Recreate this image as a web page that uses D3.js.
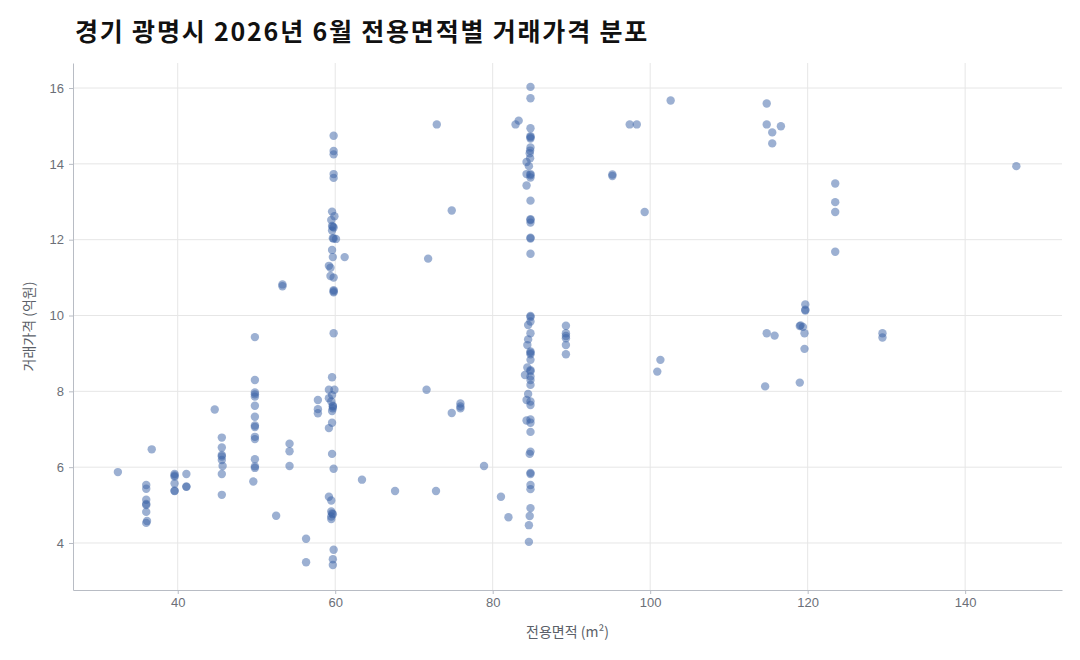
<!DOCTYPE html>
<html>
<head>
<meta charset="utf-8">
<script src="https://cdn.jsdelivr.net/npm/d3@7"></script>
<style>
  body { margin: 0; background: #fff; }
  svg { display: block; font-family: "Noto Sans CJK KR", "Noto Sans", sans-serif; }
  .grid line { stroke: #e6e6e6; stroke-width: 1; }
  .axis path, .axis line { stroke: #b8bcc4; }
  .axis text { fill: #6b6f78; font-size: 13px; }
</style>
</head>
<body>
<svg id="chart" width="1080" height="660"></svg>
<script>
// 전용면적 (m²) and 거래가격 (억원), one entry per transaction
var area = [
  32.4,
  36.0, 36.0, 36.0, 36.0, 36.0, 36.0, 36.1, 36.0, 36.7,
  39.6, 39.6, 39.6, 39.6, 39.6, 39.6,
  41.1, 41.1, 41.1, 44.7,
  45.6, 45.6, 45.6, 45.6, 45.6, 45.7, 45.6, 45.6,
  49.8, 49.8, 49.8, 49.8, 49.8, 49.8, 49.8, 49.8, 49.8, 49.8, 49.8, 49.8, 49.8, 49.8, 49.6,
  52.5, 53.3, 53.3, 54.2, 54.2, 54.2, 56.3, 56.3, 57.8, 57.8, 57.8,
  59.8, 59.8, 59.8, 59.8, 59.8, 59.6, 59.9, 59.5, 59.6, 59.7, 59.8, 59.6, 59.7, 59.8, 60.1,
  59.6, 59.7, 59.2, 59.4, 59.4, 59.8, 59.8, 59.8, 59.8, 59.8, 59.6, 59.2, 59.9, 59.6, 59.2,
  59.5, 59.7, 59.7, 59.7, 59.6, 59.6, 59.2, 59.6, 59.8, 59.2, 59.5, 59.5, 59.6, 59.7, 59.5,
  59.5, 59.8, 59.7, 59.7,
  61.2, 63.4, 67.6, 71.6, 71.8, 72.8, 72.9, 74.8, 74.8, 75.9, 75.9, 75.9, 78.9, 81.05, 82.0,
  82.9, 83.3,
  84.8, 84.8, 84.8, 84.8, 84.8, 84.8, 84.8, 84.75, 84.7, 84.75, 84.3, 84.6, 84.3, 84.8, 84.8,
  84.8, 84.3, 84.8, 84.8, 84.8, 84.8, 84.8, 84.8, 84.8, 84.8, 84.8, 84.8, 84.5, 84.8, 84.5,
  84.4, 84.8, 84.8, 84.8, 84.8, 84.4, 84.8, 84.8, 84.1, 84.8, 84.8, 84.8, 84.5, 84.3, 84.8,
  84.8, 84.3, 84.8, 84.8, 84.8, 84.8, 84.7, 84.8, 84.8, 84.8, 84.8, 84.8, 84.7, 84.6, 84.6,
  89.3, 89.3, 89.3, 89.3, 89.3, 89.3,
  95.2, 95.2, 97.4, 98.3, 99.3, 100.9, 101.3, 102.6,
  114.6, 114.8, 114.8, 114.8, 115.5, 115.5, 115.8, 116.6,
  119.0, 119.0, 119.1, 119.4, 119.6, 119.6, 119.7, 119.7, 119.7,
  123.5, 123.5, 123.5, 123.5, 129.5, 129.5, 146.5
];
var price = [
  5.87,
  5.53, 5.43, 5.14, 5.03, 5.0, 4.82, 4.58, 4.53, 6.47,
  5.82, 5.78, 5.75, 5.57, 5.37, 5.38,
  5.82, 5.48, 5.49, 7.52,
  6.78, 6.52, 6.32, 6.28, 6.19, 6.03, 5.82, 5.27,
  9.43, 8.30, 7.97, 7.92, 7.86, 7.62, 7.33, 7.10, 7.06, 6.80, 6.74, 6.21, 6.02, 5.98, 5.62,
  4.72, 10.82, 10.77, 6.62, 6.42, 6.03, 4.11, 3.49, 7.77, 7.53, 7.42,
  14.74, 14.34, 14.25, 13.73, 13.63, 12.74, 12.62, 12.52, 12.36, 12.34, 12.32, 12.24, 12.04, 12.03, 12.02,
  11.73, 11.54, 11.31, 11.26, 11.04, 11.0, 10.67, 10.64, 10.61, 9.53, 8.37, 8.04, 8.04, 7.9, 7.82,
  7.73, 7.62, 7.60, 7.55, 7.48, 7.17, 7.03, 6.35, 5.96, 5.22, 5.12, 4.83, 4.78, 4.76, 4.70,
  4.63, 3.82, 3.57, 3.42,
  11.54, 5.67, 5.37, 8.04, 11.5, 5.37, 15.04, 12.77, 7.43, 7.68, 7.6, 7.55, 6.03, 5.22, 4.68,
  15.04, 15.14,
  16.03, 15.73, 14.94, 14.73, 14.70, 14.67, 14.43, 14.35, 14.28, 14.15, 14.05, 13.94, 13.73, 13.73, 13.70,
  13.64, 13.43, 13.03, 12.54, 12.52, 12.45, 12.05, 12.03, 11.63, 9.99, 9.96, 9.84, 9.75, 9.53, 9.37,
  9.22, 9.05, 9.02, 8.98, 8.83, 8.63, 8.56, 8.53, 8.43, 8.39, 8.3, 8.17, 7.93, 7.77, 7.73,
  7.64, 7.23, 7.26, 7.17, 6.93, 6.41, 6.35, 5.85, 5.82, 5.53, 5.42, 4.92, 4.71, 4.47, 4.03,
  9.73, 9.53, 9.46, 9.40, 9.22, 8.98,
  13.72, 13.68, 15.04, 15.04, 12.73, 8.52, 8.83, 15.67,
  8.13, 15.59, 15.04, 9.53, 14.83, 14.54, 9.47, 14.99,
  8.23, 9.72, 9.74, 9.7, 9.53, 9.12, 10.29, 10.13, 10.15,
  13.48, 12.99, 12.73, 11.68, 9.53, 9.42, 13.94
];
var xTicks = [40, 60, 80, 100, 120, 140];
var yTicks = [4, 6, 8, 10, 12, 14, 16];

var margin = {top: 63, right: 18, bottom: 70, left: 73},
    width = 1080, height = 660;

var svg = d3.select('#chart');

var x = d3.scaleLinear().domain([26.7, 152.3]).range([margin.left, width - margin.right]);
var y = d3.scaleLinear().domain([2.76, 16.66]).range([height - margin.bottom, margin.top]);

// gridlines
var grid = svg.append('g').attr('class', 'grid');
grid.selectAll('.gx').data(xTicks).enter().append('line')
    .attr('x1', function(d) { return x(d); }).attr('x2', function(d) { return x(d); })
    .attr('y1', margin.top).attr('y2', height - margin.bottom);
grid.selectAll('.gy').data(yTicks).enter().append('line')
    .attr('y1', function(d) { return y(d); }).attr('y2', function(d) { return y(d); })
    .attr('x1', margin.left).attr('x2', width - margin.right);

// axes
svg.append('g').attr('class', 'axis')
    .attr('transform', 'translate(0,' + (height - margin.bottom) + ')')
    .call(d3.axisBottom(x).tickValues(xTicks).tickSize(4).tickSizeOuter(0).tickPadding(4));
svg.append('g').attr('class', 'axis')
    .attr('transform', 'translate(' + margin.left + ',0)')
    .call(d3.axisLeft(y).tickValues(yTicks).tickSize(4).tickSizeOuter(0).tickPadding(5));

// points
var pts = area.map(function(a, i) { return {a: a, p: price[i]}; });
svg.append('g').selectAll('circle').data(pts).enter().append('circle')
    .attr('cx', function(d) { return x(d.a); })
    .attr('cy', function(d) { return y(d.p); })
    .attr('r', 4.2)
    .attr('fill', '#3a62a5')
    .attr('fill-opacity', 0.5);

// titles
svg.append('text')
    .attr('x', 75).attr('y', 41)
    .style('font-size', '25px').style('font-weight', 700).style('fill', '#111')
    .style('letter-spacing', '1.8px')
    .text('경기 광명시 2026년 6월 전용면적별 거래가격 분포');

svg.append('text')
    .attr('x', (margin.left + width - margin.right) / 2).attr('y', 637)
    .attr('text-anchor', 'middle')
    .style('font-size', '14px').style('fill', '#5b5f68')
    .text('전용면적 (m²)');

svg.append('text')
    .attr('transform', 'translate(34,' + ((margin.top + height - margin.bottom) / 2) + ') rotate(-90)')
    .attr('text-anchor', 'middle')
    .style('font-size', '14px').style('fill', '#5b5f68')
    .text('거래가격 (억원)');
</script>
</body>
</html>
